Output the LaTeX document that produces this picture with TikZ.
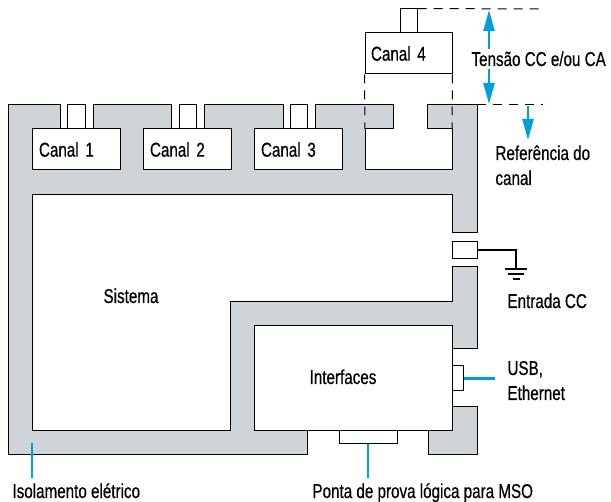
\documentclass[tikz,border=0pt]{standalone}
\usepackage{fontspec}
\setmainfont[FakeStretch=0.76, FakeBold=0.5]{Liberation Sans}
\usetikzlibrary{arrows.meta}
\definecolor{isogray}{RGB}{206,212,215}
\definecolor{sigblue}{RGB}{0,158,224}

\begin{document}
\begin{tikzpicture}[x=1pt, y=-1pt, line width=1pt,
      every node/.style={font=\fontsize{20}{25}\selectfont, inner sep=0pt},
      chan/.style={rectangle, draw, fill=white, minimum width=88pt, minimum height=41pt, text width=74pt, inner xsep=7pt, align=left},
      plug/.style={rectangle, draw, fill=white},
      txt/.style={align=left, anchor=base west},
      blueline/.style={draw=sigblue, line width=2.2pt},
      bluearrow/.style={blueline, -{Triangle[length=21pt,width=11pt]}},
      bluedouble/.style={blueline, {Triangle[length=21pt,width=11pt]}-{Triangle[length=21pt,width=11pt]}},
      dashline/.style={dash pattern=on 9pt off 7pt},
      gndline/.style={line width=2pt}
  ]
  \useasboundingbox (0,0) rectangle (611,502);

  % Isolation
  \filldraw[fill=isogray] (8,105) -- (60,105) -- (60,129) -- (32,129) -- (32,170) -- (120,170) -- (120,129) -- (93,129) -- (93,105)
    -- (171,105) -- (171,129) -- (143,129) -- (143,170) -- (231,170) -- (231,129) -- (204,129) -- (204,105)
    -- (283,105) -- (283,129) -- (254,129) -- (254,170) -- (342,170) -- (342,129) -- (315,129) -- (315,105)
    -- (393,105) -- (393,129) -- (365,129) -- (365,170) -- (452,170) -- (452,129) -- (427,129) -- (427,105)
    -- (477,105) -- (477,233) -- (452,233) -- (452,195) -- (32,195) -- (32,431) -- (230,431) -- (230,302)
    -- (452,302) -- (452,267) -- (477,267) -- (477,349) -- (452,349) -- (452,326) -- (254,326) -- (254,431)
    -- (307,431) -- (307,455) -- (8,455) -- cycle;
  \filldraw[fill=isogray] (452,407) -- (477,407) -- (477,455) -- (428,455) -- (428,431) -- (452,431) -- cycle;

  % Nodes
  \node[chan] (ch1) at (76,149.5) {Canal 1};
  \node[chan] (ch2) at (187,149.5) {Canal 2};
  \node[chan] (ch3) at (298,149.5) {Canal 3};
  \node[chan, minimum width=87pt, text width=75pt, inner xsep=6pt] (ch4) at (408.5,53.5) {Canal 4};
  \node[rectangle, draw, fill=white, minimum width=198pt, minimum height=105pt] (ifc) at (353,378.5) {};
  \node[anchor=base] (sys) at (131,303) {Sistema};
  \node[anchor=base] (ifctext) at (343,384) {Interfaces};

  % Plugs
  \node[plug, minimum width=18pt, minimum height=24pt] (p1) at (76,117) {};
  \node[plug, minimum width=17pt, minimum height=24pt] (p2) at (187.5,117) {};
  \node[plug, minimum width=17pt, minimum height=24pt] (p3) at (298.5,117) {};
  \node[plug, minimum width=17pt, minimum height=24pt] (p4) at (408.5,21) {};
  \node[plug, minimum width=25pt, minimum height=17pt] (dcin) at (464.5,250.5) {};
  \node[plug, minimum width=11pt, minimum height=25pt] (usb) at (457.5,378.5) {};
  \node[plug, minimum width=58pt, minimum height=13pt] (probe) at (368,437.5) {};

  % Coordinates
  \coordinate (vtop) at (543,9);
  \coordinate (frame) at (477,105);
  \coordinate (vref) at (543,105);
  \coordinate (slotl) at (365,129);
  \coordinate (slotr) at (452,129);
  \coordinate (ttop) at (489,10);
  \coordinate (tbot) at (489,104);
  \coordinate (rtop) at (528,106);
  \coordinate (rbot) at (528,140);
  \coordinate (gnd) at (516,269);
  \coordinate (usbend) at (495,378.5);
  \coordinate (probeend) at (368,478);
  \coordinate (isotop) at (32,443);
  \coordinate (isoend) at (32,478);

  % Dashed lines
  \draw[dashline] (p4.north east) -- (vtop);
  \draw[dashline] (frame) -- (vref);
  \draw[dashline] (ch4.south west) -- (slotl);
  \draw[dashline] (ch4.south east) -- (slotr);

  % Arrows
  \draw[bluedouble] (ttop) -- (tbot);
  \draw[bluearrow] (rtop) -- (rbot);
  \draw[blueline] (usb.east) -- (usbend);
  \draw[blueline] (probe.south) -- (probeend);
  \draw[blueline] (isotop) -- (isoend);

  % Ground
  \draw[gndline] (dcin.east) -| (gnd);
  \draw[gndline] (gnd) ++(-11,0) -- ++(22,0);
  \draw[gndline] (gnd) ++(-8,5) -- ++(16,0);
  \draw[gndline] (gnd) ++(-3.5,10) -- ++(7,0);

  % Labels
  \node[txt, fill=white, inner ysep=3pt] (volt) at (471,66) {Tensão CC e/ou CA};
  \node[txt] (ref) at (495,185) {Referência do\\canal};
  \node[txt] (dctext) at (507,308) {Entrada CC};
  \node[txt] (usbtext) at (507,400) {USB,\\Ethernet};
  \node[txt] (isotext) at (12,498) {Isolamento elétrico};
  \node[txt] (probetext) at (312,498) {Ponta de prova lógica para MSO};

\end{tikzpicture}
\end{document}
